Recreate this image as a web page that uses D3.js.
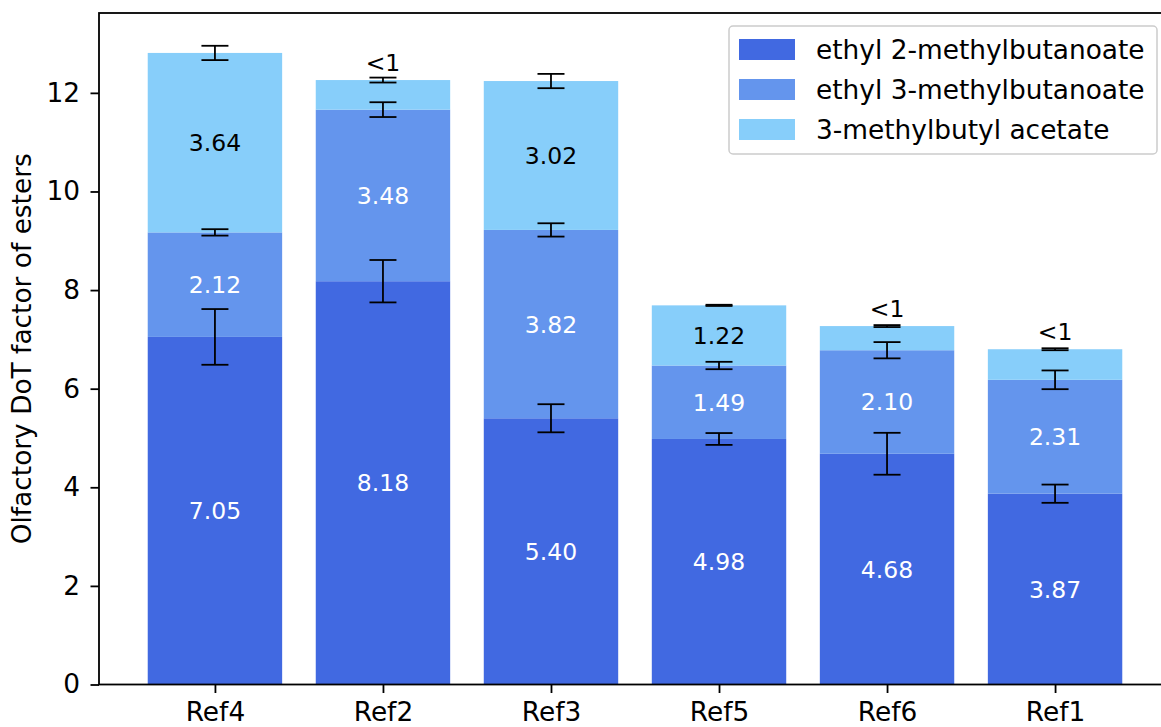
<!DOCTYPE html>
<html>
<head>
<meta charset="utf-8">
<script src="https://cdn.jsdelivr.net/npm/d3@7"></script>
<style>
  html, body { margin: 0; padding: 0; background: #fff; }
  svg { display: block; font-family: "DejaVu Sans", sans-serif; }
</style>
</head>
<body>
<svg id="chart" width="1161" height="727"></svg>
<script>
// Stacked olfactory DoT factors per reference sample
const categories = ["Ref4", "Ref2", "Ref3", "Ref5", "Ref6", "Ref1"];
const seriesNames = ["ethyl 2-methylbutanoate", "ethyl 3-methylbutanoate", "3-methylbutyl acetate"];
const ethyl2mb = [7.05, 8.18, 5.40, 4.98, 4.68, 3.87];
const ethyl3mb = [2.12, 3.48, 3.82, 1.49, 2.10, 2.31];
const methylbutylAcetate = [3.64, 0.60, 3.02, 1.22, 0.49, 0.62];
const ethyl2mbErr = [0.565, 0.43, 0.285, 0.12, 0.425, 0.185];
const ethyl3mbErr = [0.065, 0.15, 0.135, 0.075, 0.165, 0.19];
const methylbutylAcetateErr = [0.145, 0.05, 0.145, 0.012, 0.02, 0.02];
const ethyl2mbLabels = ["7.05", "8.18", "5.40", "4.98", "4.68", "3.87"];
const ethyl3mbLabels = ["2.12", "3.48", "3.82", "1.49", "2.10", "2.31"];
const acetateLabels = ["3.64", "<1", "3.02", "1.22", "<1", "<1"];
const yTicks = [0, 2, 4, 6, 8, 10, 12];
const colors = ["#4169E1", "#6495ED", "#87CEFA"];
const labelColors = ["#ffffff", "#ffffff", "#000000"];

const values = [ethyl2mb, ethyl3mb, methylbutylAcetate];
const errors = [ethyl2mbErr, ethyl3mbErr, methylbutylAcetateErr];
const labels = [ethyl2mbLabels, ethyl3mbLabels, acetateLabels];

const svg = d3.select("#chart");
const plotLeft = 99, plotRight = 1171, plotTop = 13, plotBottom = 684.5;
const fontSize = 26.4;      // axis, tick and legend text
const valueFontSize = 23.5; // in-bar value labels

// index scale with matplotlib-like margins around the bars
const x = d3.scaleLinear().domain([-0.69, categories.length - 1 + 0.69]).range([plotLeft, plotRight]);
const barW = x(0.8) - x(0);
const y = d3.scaleLinear().domain([0, 13.62]).range([plotBottom, plotTop]);

// build stacked segments
const segments = [];
categories.forEach((c, i) => {
  let base = 0;
  values.forEach((arr, s) => {
    const v = arr[i];
    segments.push({ i, s, y0: base, y1: base + v, err: errors[s][i], label: labels[s][i] });
    base += v;
  });
});

const g = svg.append("g");

g.selectAll("rect.bar").data(segments).join("rect")
  .attr("class", "bar")
  .attr("x", d => x(d.i) - barW / 2)
  .attr("width", barW)
  .attr("y", d => y(d.y1))
  .attr("height", d => y(d.y0) - y(d.y1))
  .attr("fill", d => colors[d.s]);

// segment value labels; small segments get "<1" above the bar
g.selectAll("text.val").data(segments).join("text")
  .attr("class", "val")
  .attr("x", d => x(d.i))
  .attr("y", d => d.label === "<1" ? y(d.y1) - 9 : (y(d.y0) + y(d.y1)) / 2)
  .attr("dy", d => d.label === "<1" ? 0 : "0.36em")
  .attr("text-anchor", "middle")
  .attr("font-size", valueFontSize)
  .attr("fill", d => d.label === "<1" ? "#000" : labelColors[d.s])
  .text(d => d.label);

// error bars at the top of each segment
const capHalf = 13.5;
const eb = g.selectAll("g.err").data(segments).join("g").attr("class", "err")
  .attr("stroke", "#000").attr("stroke-width", 1.8).attr("fill", "none");
eb.append("line")
  .attr("x1", d => x(d.i)).attr("x2", d => x(d.i))
  .attr("y1", d => y(d.y1 - d.err)).attr("y2", d => y(d.y1 + d.err));
eb.append("line")
  .attr("x1", d => x(d.i) - capHalf).attr("x2", d => x(d.i) + capHalf)
  .attr("y1", d => y(d.y1 - d.err)).attr("y2", d => y(d.y1 - d.err));
eb.append("line")
  .attr("x1", d => x(d.i) - capHalf).attr("x2", d => x(d.i) + capHalf)
  .attr("y1", d => y(d.y1 + d.err)).attr("y2", d => y(d.y1 + d.err));

// axes
const yAxis = d3.axisLeft(y).tickValues(yTicks).tickFormat(d3.format("d")).tickSize(8.5).tickPadding(10.5);
const xAxis = d3.axisBottom(x).tickValues(d3.range(categories.length))
  .tickFormat(i => categories[i]).tickSize(8.5).tickPadding(8.8);

const ya = svg.append("g").attr("transform", `translate(${plotLeft},0)`).call(yAxis);
const xa = svg.append("g").attr("transform", `translate(0,${plotBottom})`).call(xAxis);
[ya, xa].forEach(a => {
  a.select(".domain").remove();
  a.selectAll(".tick line").attr("stroke", "#000").attr("stroke-width", 1.8);
  a.selectAll(".tick text").attr("font-size", fontSize).attr("fill", "#000")
    .attr("font-family", "DejaVu Sans, sans-serif");
});

// frame
svg.append("rect")
  .attr("x", plotLeft).attr("y", plotTop)
  .attr("width", plotRight - plotLeft).attr("height", plotBottom - plotTop)
  .attr("fill", "none").attr("stroke", "#000").attr("stroke-width", 1.8);

// y-axis title
svg.append("text")
  .attr("transform", `translate(31,${(plotTop + plotBottom) / 2}) rotate(-90)`)
  .attr("text-anchor", "middle")
  .attr("font-size", fontSize)
  .text("Olfactory DoT factor of esters");

// legend
const lg = svg.append("g").attr("transform", "translate(729,26)");
lg.append("rect").attr("width", 428).attr("height", 128).attr("rx", 4)
  .attr("fill", "#fff").attr("fill-opacity", 0.8).attr("stroke", "#cccccc").attr("stroke-width", 1.5);
seriesNames.forEach((name, s) => {
  const row = lg.append("g").attr("transform", `translate(10,${13 + s * 40})`);
  row.append("rect").attr("width", 56).attr("height", 21).attr("fill", colors[s]);
  row.append("text").attr("x", 77).attr("y", 10.5).attr("dy", "0.36em")
    .attr("font-size", fontSize).text(name);
});
</script>
</body>
</html>
